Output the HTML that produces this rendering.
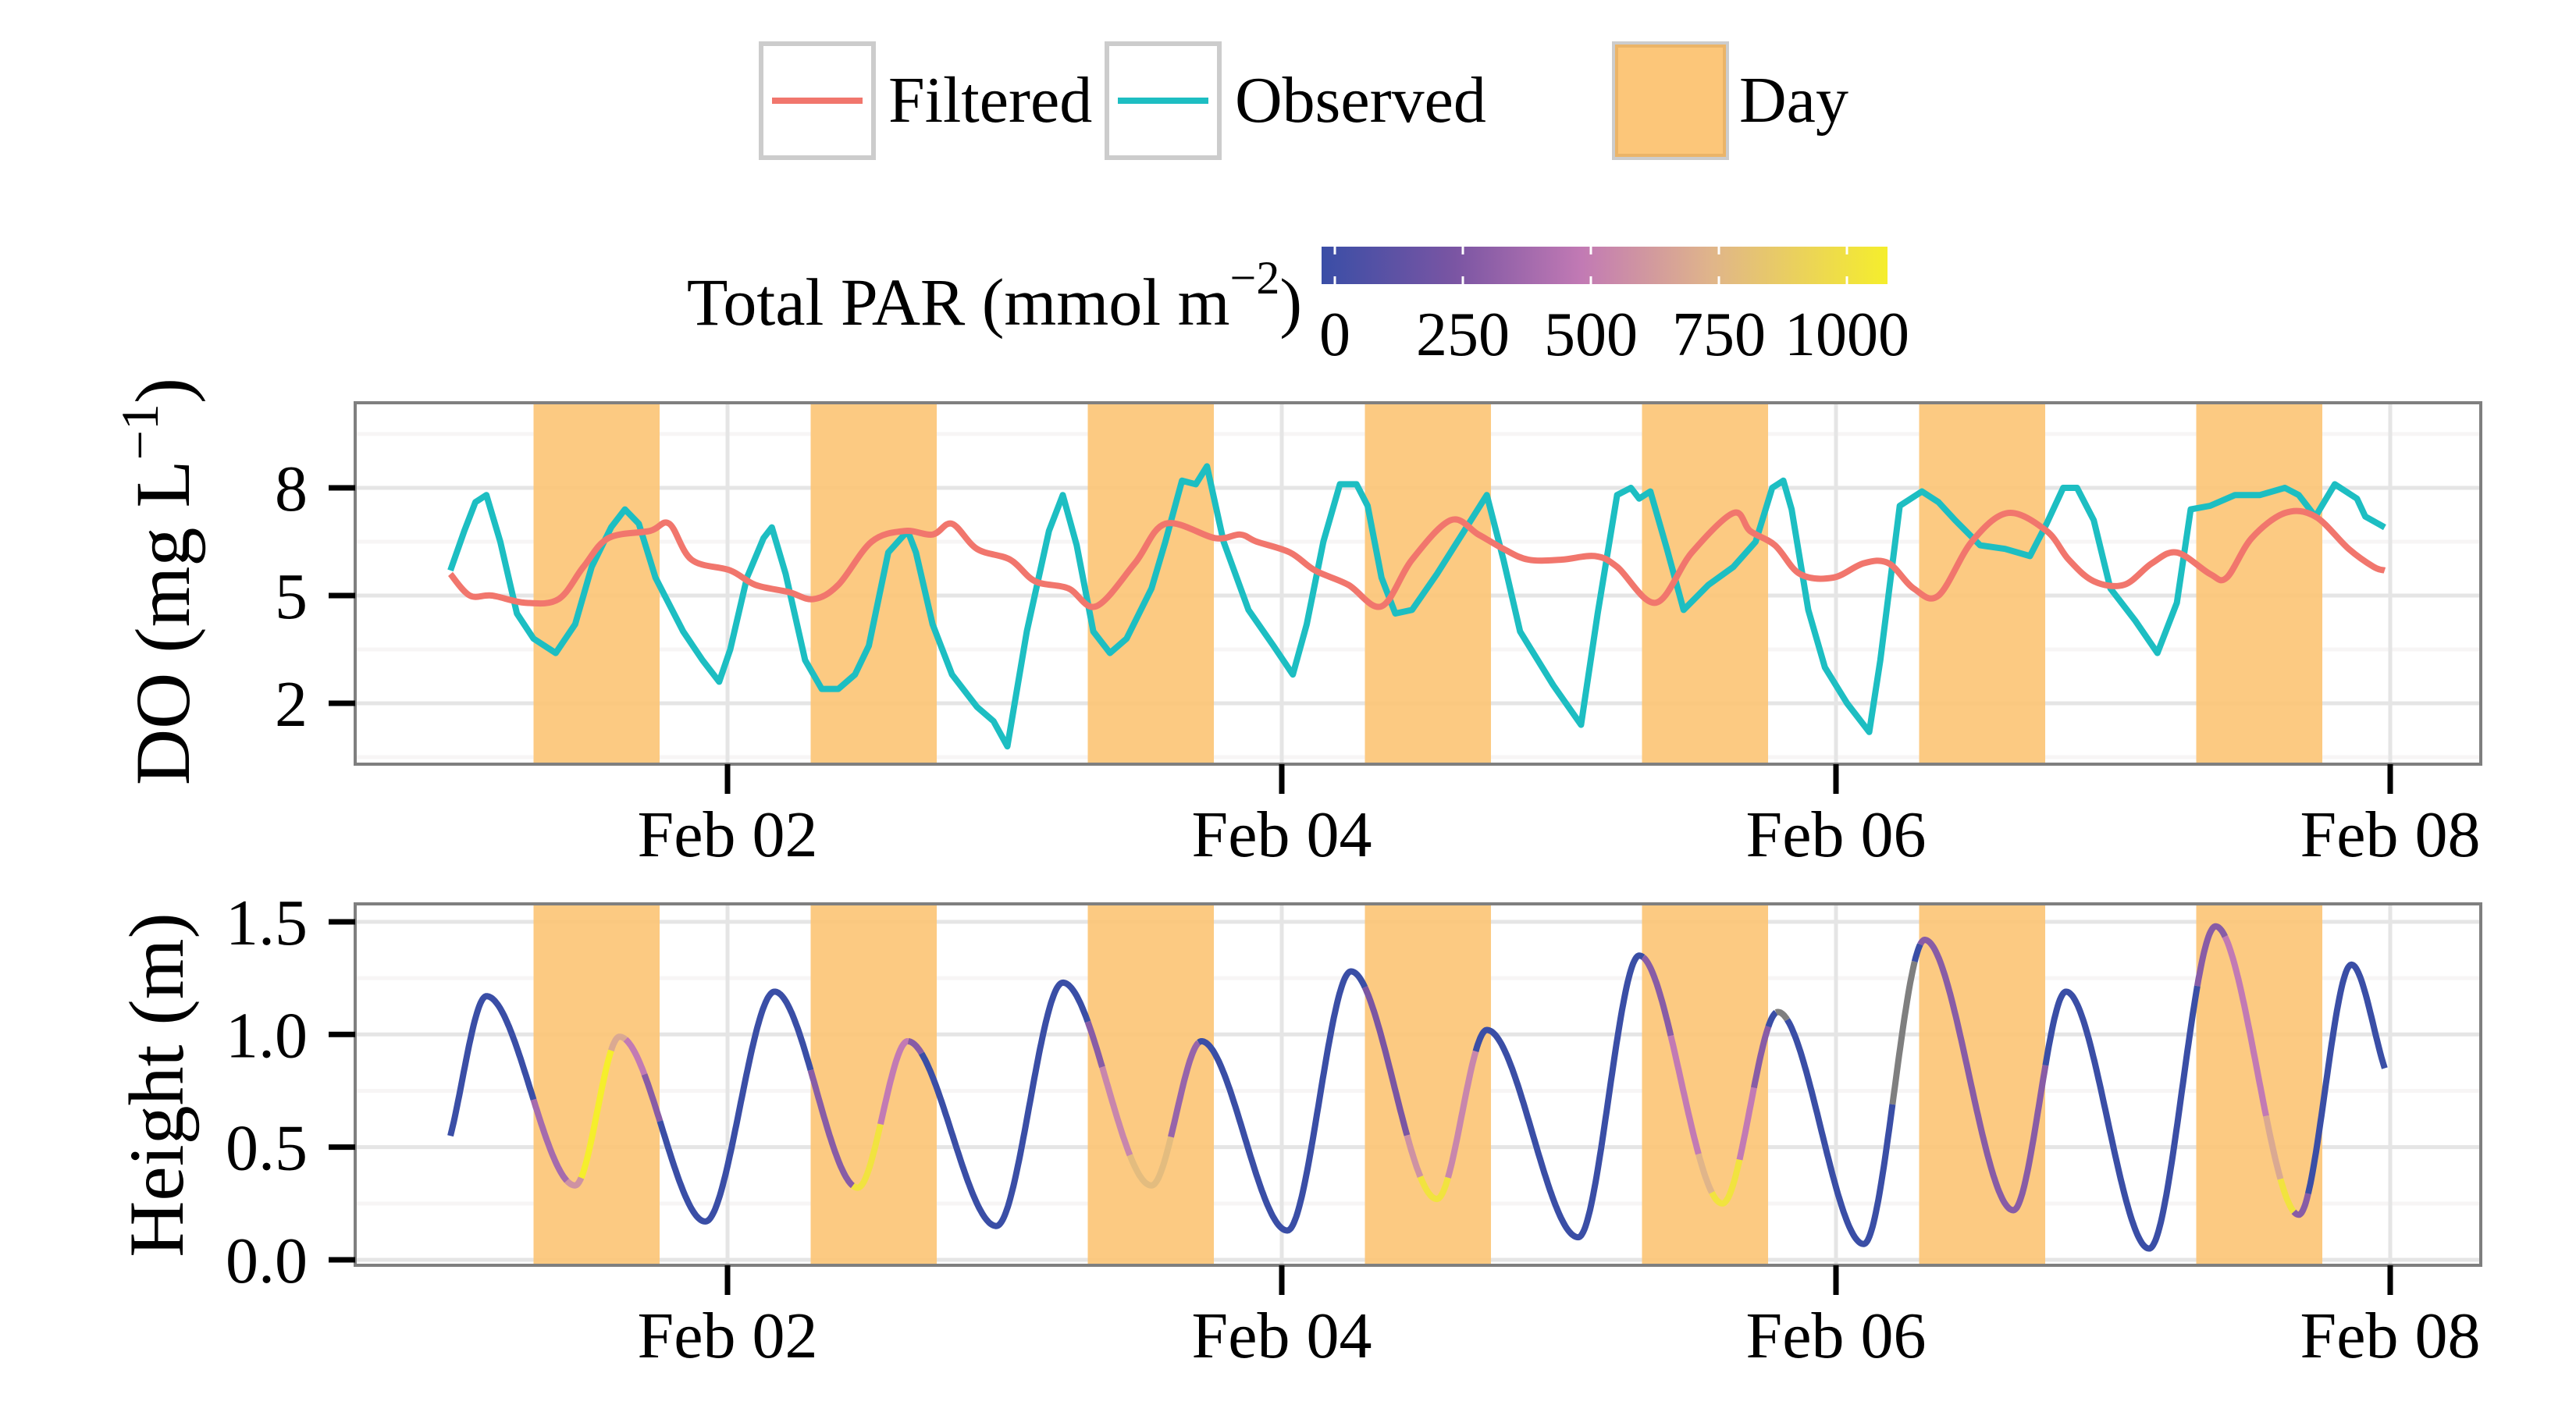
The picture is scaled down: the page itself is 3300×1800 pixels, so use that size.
<!DOCTYPE html>
<html><head><meta charset="utf-8"><style>
html,body{margin:0;padding:0;background:#fff;}
svg{display:block;font-family:"Liberation Serif",serif;}
</style></head><body>
<svg id="chart" width="3300" height="1800" viewBox="0 0 3300 1800" xmlns="http://www.w3.org/2000/svg">
<defs>
<linearGradient id="parGrad" x1="0" x2="1" y1="0" y2="0">
<stop offset="0" stop-color="#3a4ea6"/><stop offset="0.235" stop-color="#7a55a3"/><stop offset="0.46" stop-color="#c27ab4"/><stop offset="0.69" stop-color="#e0b58a"/><stop offset="1" stop-color="#f5ee2c"/>
</linearGradient>
</defs>
<g>
 <g>
  <rect x="975" y="56" width="144" height="146" fill="#fff" stroke="#cccccc" stroke-width="6"/>
  <line x1="989" x2="1105" y1="129" y2="129" stroke="#f1766d" stroke-width="8"/>
  <text x="1138" y="156" font-size="84">Filtered</text>
 </g>
 <g>
  <rect x="1418" y="56" width="144" height="146" fill="#fff" stroke="#cccccc" stroke-width="6"/>
  <line x1="1432" x2="1548" y1="129" y2="129" stroke="#1dbec2" stroke-width="8"/>
  <text x="1582" y="156" font-size="84">Observed</text>
 </g>
 <g>
  <rect x="2068" y="56" width="144" height="146" fill="#fcc679" stroke="#cccccc" stroke-width="6"/>
  <rect x="2071" y="59" width="138" height="140" fill="none" stroke="#ebb468" stroke-width="4"/>
  <text x="2228" y="156" font-size="84">Day</text>
 </g>
 <g>
  <text x="1668" y="416" font-size="86" text-anchor="end">Total PAR (mmol m<tspan font-size="60" dy="-40">−2</tspan><tspan dy="40">)</tspan></text>
  <rect x="1693" y="316" width="725" height="48" fill="url(#parGrad)"/>
  <g id="cbTicks"></g>
 </g>
</g>
<g id="panel1"></g>
<g id="panel2"></g>
</svg>
<script>
// ---- data ----
var xTickLabels = ["Feb 02","Feb 04","Feb 06","Feb 08"];
var xTickDays = [1,3,5,7];
var doTicks = [2,5,8];
var heightTicks = [0.0,0.5,1.0,1.5];
var heightTickLabels = ["0.0","0.5","1.0","1.5"];
var parTicks = [0,250,500,750,1000];
var dayStart = [0.30,1.30,2.30,3.30,4.30,5.30,6.30];
var dayEnd = [0.755,1.755,2.755,3.755,4.755,5.755,6.755];
var obsT = [0.00,0.05,0.09,0.13,0.18,0.24,0.30,0.38,0.45,0.51,0.58,0.63,0.68,0.74,0.84,0.91,0.97,1.01,1.07,1.13,1.16,1.21,1.28,1.34,1.40,1.46,1.51,1.58,1.65,1.68,1.74,1.81,1.90,1.96,2.01,2.08,2.16,2.21,2.26,2.32,2.38,2.44,2.53,2.58,2.64,2.69,2.73,2.79,2.88,2.97,3.04,3.09,3.15,3.21,3.27,3.31,3.36,3.41,3.47,3.56,3.65,3.74,3.80,3.86,3.98,4.08,4.14,4.21,4.26,4.29,4.33,4.39,4.45,4.54,4.63,4.71,4.77,4.81,4.84,4.90,4.96,5.04,5.12,5.16,5.23,5.31,5.37,5.43,5.52,5.61,5.70,5.76,5.82,5.87,5.93,5.99,6.08,6.16,6.23,6.28,6.35,6.44,6.53,6.62,6.67,6.73,6.80,6.88,6.91,6.98];
var obsV = [5.7,6.8,7.6,7.8,6.5,4.5,3.8,3.4,4.2,5.8,6.9,7.4,7.0,5.5,4.0,3.2,2.6,3.5,5.5,6.6,6.9,5.6,3.2,2.4,2.4,2.8,3.6,6.2,6.8,6.2,4.2,2.8,1.9,1.5,0.8,4.0,6.8,7.8,6.4,4.0,3.4,3.8,5.2,6.5,8.2,8.1,8.6,6.5,4.6,3.6,2.8,4.2,6.5,8.1,8.1,7.5,5.5,4.5,4.6,5.6,6.7,7.8,6.0,4.0,2.5,1.4,4.5,7.8,8.0,7.7,7.9,6.3,4.6,5.3,5.8,6.5,8.0,8.2,7.4,4.6,3.0,2.0,1.2,3.2,7.5,7.9,7.6,7.1,6.4,6.3,6.1,7.0,8.0,8.0,7.1,5.2,4.3,3.4,4.8,7.4,7.5,7.8,7.8,8.0,7.8,7.2,8.1,7.7,7.2,6.9];
var filT = [0.00,0.07,0.15,0.27,0.39,0.48,0.57,0.72,0.79,0.87,1.01,1.10,1.22,1.31,1.40,1.52,1.64,1.74,1.81,1.90,2.02,2.11,2.23,2.33,2.47,2.58,2.76,2.85,2.91,3.03,3.12,3.24,3.36,3.47,3.61,3.71,3.80,3.89,4.01,4.13,4.21,4.35,4.48,4.63,4.69,4.78,4.87,4.99,5.10,5.19,5.28,5.37,5.49,5.62,5.76,5.84,5.93,6.04,6.14,6.23,6.35,6.41,6.50,6.62,6.73,6.85,6.94,6.98];
var filV = [5.6,5.0,5.0,4.8,4.9,5.8,6.6,6.8,7.0,6.0,5.7,5.3,5.1,4.9,5.3,6.5,6.8,6.7,7.0,6.3,6.0,5.4,5.2,4.7,5.9,7.0,6.6,6.7,6.5,6.2,5.7,5.3,4.7,6.0,7.1,6.7,6.3,6.0,6.0,6.1,5.8,4.8,6.2,7.3,6.8,6.4,5.6,5.5,5.9,5.9,5.2,5.0,6.5,7.3,6.8,6.0,5.4,5.3,5.9,6.2,5.6,5.5,6.6,7.3,7.2,6.3,5.8,5.7];
var hT = [0.00,0.13,0.45,0.61,0.92,1.17,1.47,1.65,1.97,2.21,2.53,2.71,3.02,3.25,3.56,3.74,4.07,4.29,4.59,4.79,5.10,5.32,5.64,5.83,6.13,6.37,6.67,6.86,6.98];
var hV = [0.55,1.17,0.33,0.99,0.17,1.19,0.32,0.97,0.15,1.23,0.33,0.97,0.13,1.28,0.27,1.02,0.10,1.35,0.25,1.10,0.07,1.42,0.22,1.19,0.05,1.48,0.20,1.31,0.85];
var parStart = [0.30,0.42,0.47,0.58,0.63,0.70, 1.30,1.45,1.55,1.65, 2.30,2.35,2.45,2.60, 3.30,3.45,3.50,3.60, 4.30,4.40,4.50,4.55,4.65,4.70,4.78,5.20, 5.30, 6.30,6.40,6.55,6.60,6.65];
var parEnd   = [0.42,0.47,0.58,0.63,0.70,0.755,1.45,1.55,1.65,1.70, 2.35,2.45,2.60,2.70, 3.45,3.50,3.60,3.70, 4.40,4.50,4.55,4.65,4.70,4.755,4.82,5.28, 5.755,6.40,6.55,6.60,6.65,6.70];
var parVal   = [400,600,1000,700,500,300, 300,950,500,300, 300,550,780,350, 250,600,950,550, 300,500,750,950,500,300,-1,-1, 300, 300,500,700,950,300];

// ---- scales ----
var NS="http://www.w3.org/2000/svg";
function X(t){return 577+t*355;}
var P1={top:516,bot:979,left:455,right:3178};
var P2={top:1158,bot:1621,left:455,right:3178};
function Ydo(v){return 625+(8-v)*46;}
function Yh(v){return 1614+(0-v)*288.7;}
function mk(tag,attrs,parent){var e=document.createElementNS(NS,tag);for(var k in attrs)e.setAttribute(k,attrs[k]);parent.appendChild(e);return e;}
var parStops=[[0,[58,78,166]],[250,[122,85,163]],[500,[194,122,180]],[750,[224,181,138]],[1000,[245,238,44]]];
function parColor(p){
  if(p<0)return "#7f7f7f";
  for(var i=0;i<parStops.length-1;i++){var a=parStops[i],b=parStops[i+1];
    if(p<=b[0]){var f=(p-a[0])/(b[0]-a[0]);return "rgb("+[0,1,2].map(function(j){return Math.round(a[1][j]+f*(b[1][j]-a[1][j]));}).join(",")+")";}}
  return "rgb(245,238,44)";
}
function parAt(t){for(var i=0;i<parStart.length;i++){if(t>=parStart[i]&&t<parEnd[i])return parVal[i];}return 0;}

// colorbar ticks
var cb=document.getElementById('cbTicks');
parTicks.forEach(function(p){
  var x=1710+p*0.656;
  var l1=mk('line',{x1:x,x2:x,y1:316,y2:326,stroke:'#fff','stroke-width':3},cb);
  
  
  var l2=mk('line',{x1:x,x2:x,y1:354,y2:364,stroke:'#fff','stroke-width':3},cb);
  
  
  var tx=mk('text',{x:x,y:455,'font-size':80,'text-anchor':'middle'},cb);tx.textContent=String(p);
  
  
});

function panel(g,P,yfun,ticks,labels,minorVals,nameKey){
  var bg=mk('rect',{x:P.left,y:P.top,width:P.right-P.left,height:P.bot-P.top,fill:'#fff'},g);
  
  
  minorVals.forEach(function(v){var y=yfun(v);if(y<P.top||y>P.bot)return;var l=mk('line',{x1:P.left,x2:P.right,y1:y,y2:y,stroke:'#f7f5f5','stroke-width':5},g);
    
    });
  for(var d=0;d<=8;d++){var x=X(d-0.5);if(x>P.left&&x<P.right){var l=mk('line',{x1:x,x2:x,y1:P.top,y2:P.bot,stroke:'#f7f5f5','stroke-width':5},g);
    
    }}
  ticks.forEach(function(v){var y=yfun(v);var l=mk('line',{x1:P.left,x2:P.right,y1:y,y2:y,stroke:'#e5e5e5','stroke-width':5},g);
    
    });
  xTickDays.forEach(function(d){var x=X(d);var l=mk('line',{x1:x,x2:x,y1:P.top,y2:P.bot,stroke:'#e5e5e5','stroke-width':5},g);
    
    });
  for(var i=0;i<dayStart.length;i++){
    var r=mk('rect',{x:X(dayStart[i]),y:P.top,width:X(dayEnd[i])-X(dayStart[i]),height:P.bot-P.top,fill:'#fcc679','fill-opacity':0.93},g);
    
    
  }
  return function(){
    var b=mk('rect',{x:P.left,y:P.top,width:P.right-P.left,height:P.bot-P.top,fill:'none',stroke:'#7f7f7f','stroke-width':4},g);
    
    
    ticks.forEach(function(v,i){var y=yfun(v);
      var t=mk('line',{x1:P.left-34,x2:P.left,y1:y,y2:y,stroke:'#000','stroke-width':7},g);
      
      
      var tx=mk('text',{x:394,y:y+29,'font-size':84,'text-anchor':'end'},g);tx.textContent=labels[i];
      
      });
    xTickDays.forEach(function(d,i){var x=X(d);
      var t=mk('line',{x1:x,x2:x,y1:P.bot,y2:P.bot+38,stroke:'#000','stroke-width':7},g);
      
      
      var tx=mk('text',{x:x,y:P.bot+118,'font-size':84,'text-anchor':'middle'},g);tx.textContent=xTickLabels[i];
      
      });
  };
}

// panel 1
var g1=document.getElementById('panel1');


var fin1=panel(g1,P1,Ydo,doTicks,doTicks.map(String),[3.5,6.5,9.5,0.5],'do');
function linePath(T,V,yf){return T.map(function(t,i){return (i?'L':'M')+X(t).toFixed(1)+' '+yf(V[i]).toFixed(1);}).join(' ');}
function smoothPath(T,V,yf){var pts=T.map(function(t,i){return [X(t),yf(V[i])];});var d='M'+pts[0][0]+' '+pts[0][1];
  for(var i=0;i<pts.length-1;i++){var p0=pts[Math.max(0,i-1)],p1=pts[i],p2=pts[i+1],p3=pts[Math.min(pts.length-1,i+2)];
    d+=' C'+(p1[0]+(p2[0]-p0[0])/6).toFixed(1)+' '+(p1[1]+(p2[1]-p0[1])/6).toFixed(1)+' '+(p2[0]-(p3[0]-p1[0])/6).toFixed(1)+' '+(p2[1]-(p3[1]-p1[1])/6).toFixed(1)+' '+p2[0].toFixed(1)+' '+p2[1].toFixed(1);}
  return d;}
var obsLine=mk('path',{d:linePath(obsT,obsV,Ydo),fill:'none',stroke:'#1dbec2','stroke-width':8,'stroke-linejoin':'round'},g1);


var filLine=mk('path',{d:smoothPath(filT,filV,Ydo),fill:'none',stroke:'#f1766d','stroke-width':8,'stroke-linejoin':'round'},g1);


fin1();
var yt1=mk('text',{x:0,y:0,'font-size':100,'text-anchor':'middle',transform:'translate(242,745) rotate(-90)'},g1);
yt1.innerHTML='DO (mg L<tspan font-size="68" dy="-40">−1</tspan><tspan dy="40">)</tspan>';



// panel 2
var g2=document.getElementById('panel2');


var fin2=panel(g2,P2,Yh,heightTicks,heightTickLabels,[0.25,0.75,1.25],'height');
function monotone(T,V){var n=T.length,d=[],m=[];
  for(var i=0;i<n-1;i++)d.push((V[i+1]-V[i])/(T[i+1]-T[i]));
  m[0]=d[0];m[n-1]=d[n-2];
  for(var i=1;i<n-1;i++){m[i]=(d[i-1]*d[i]<=0)?0:(d[i-1]+d[i])/2;}
  return function(t){var i=0;while(i<n-2&&t>T[i+1])i++;var h=T[i+1]-T[i],s=(t-T[i])/h;
    var h00=2*s*s*s-3*s*s+1,h10=s*s*s-2*s*s+s,h01=-2*s*s*s+3*s*s,h11=s*s*s-s*s;
    return h00*V[i]+h10*h*m[i]+h01*V[i+1]+h11*h*m[i+1];};}
var hf=monotone(hT,hV);
var step=0.004,t0=hT[0],t1=hT[hT.length-1];
var cur=null,pts=[];
function flush(){if(pts.length>1){var p=mk('path',{d:'M'+pts.map(function(q){return q[0].toFixed(1)+' '+q[1].toFixed(1);}).join(' L'),fill:'none',stroke:cur,'stroke-width':8,'stroke-linecap':'butt','stroke-linejoin':'round'},g2);
  
  }}
for(var t=t0;t<=t1+1e-9;t+=step){var c=parColor(parAt(t));var pt=[X(t),Yh(hf(t))];
  if(c!==cur){if(cur!==null){pts.push(pt);flush();}cur=c;pts=[pt];}else pts.push(pt);}
flush();
fin2();
var yt2=mk('text',{x:0,y:0,'font-size':100,'text-anchor':'middle',transform:'translate(234,1390) rotate(-90)'},g2);
yt2.textContent='Height (m)';


</script>
</body></html>
